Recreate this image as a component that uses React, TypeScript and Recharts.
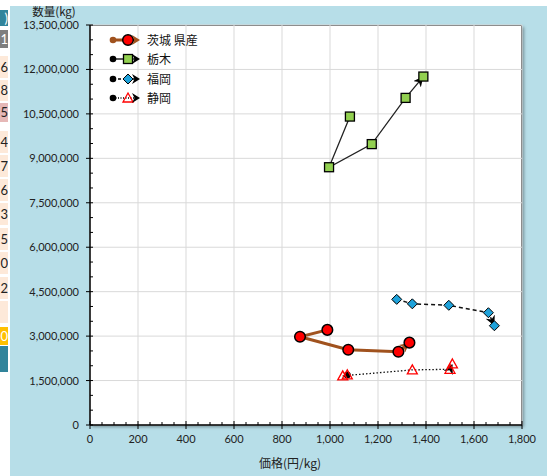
import { ScatterChart, Scatter, XAxis, YAxis, CartesianGrid, Legend } from "recharts";

const ibarakiPrice = [989, 875, 1076, 1285, 1331];
const ibarakiQty = [3210000, 2980000, 2540000, 2470000, 2780000];
const tochigiPrice = [1083, 996, 1174, 1315, 1389];
const tochigiQty = [10410000, 8700000, 9480000, 11040000, 11760000];
const fukuokaPrice = [1278, 1343, 1495, 1660, 1685];
const fukuokaQty = [4240000, 4090000, 4040000, 3790000, 3350000];
const shizuokaPrice = [1072, 1053, 1343, 1500, 1510];
const shizuokaQty = [1690000, 1660000, 1860000, 1880000, 2060000];

const xMajor = [0, 200, 400, 600, 800, 1000, 1200, 1400, 1600, 1800];
const yMajor = [0, 1500000, 3000000, 4500000, 6000000, 7500000, 9000000, 10500000, 12000000, 13500000];
const xAll = Array.from({ length: 37 }, (_, i) => i * 50);
const yAll = Array.from({ length: 28 }, (_, i) => i * 500000);

const sideCells = [
  { t: ")", top: 10, h: 16, bg: "#31849B", c: "#fff" },
  { t: "1", top: 30, h: 18, bg: "#7F7F7F", c: "#fff" },
  { t: "6", top: 56, h: 22, bg: "#FDE9D9", c: "#222" },
  { t: "8", top: 80, h: 21, bg: "#FDE9D9", c: "#222" },
  { t: "5", top: 103, h: 19, bg: "#E6B8B7", c: "#222" },
  { t: "4", top: 131, h: 22, bg: "#FDE9D9", c: "#222" },
  { t: "7", top: 155, h: 22, bg: "#FDE9D9", c: "#222" },
  { t: "6", top: 179, h: 22, bg: "#FDE9D9", c: "#222" },
  { t: "3", top: 203, h: 22, bg: "#FDE9D9", c: "#222" },
  { t: "5", top: 228, h: 22, bg: "#FDE9D9", c: "#222" },
  { t: "0", top: 252, h: 22, bg: "#FDE9D9", c: "#222" },
  { t: "2", top: 277, h: 22, bg: "#FDE9D9", c: "#222" },
  { t: "", top: 301, h: 22, bg: "#FDE9D9", c: "#222" },
  { t: "0", top: 327, h: 18, bg: "#FFC000", c: "#fff" },
  { t: "", top: 346, h: 26, bg: "#31849B", c: "#fff" },
];

const BROWN = "#A0521E";
const FONT = 'Lato, "Noto Sans CJK JP", sans-serif';
const JP = '"Noto Sans CJK JP", sans-serif';

const toPoints = (xs: number[], ys: number[]) => xs.map((x, i) => ({ x, y: ys[i] }));

const circleShape = (p: any) => (
  <circle cx={p.cx} cy={p.cy} r={5.3} fill="#FF0000" stroke="#000" strokeWidth={1.5} />
);
const squareShape = (p: any) => (
  <rect x={p.cx - 4.5} y={p.cy - 4.5} width={9} height={9} fill="#92D050" stroke="#000" strokeWidth={1.3} />
);
const diamondShape = (p: any) => (
  <path
    d={`M${p.cx},${p.cy - 5} L${p.cx + 5},${p.cy} L${p.cx},${p.cy + 5} L${p.cx - 5},${p.cy} Z`}
    fill="#1FA2DA"
    stroke="#000"
    strokeWidth={1}
  />
);
const triangleShape = (p: any) => (
  <path
    d={`M${p.cx},${p.cy - 5} L${p.cx + 5},${p.cy + 4} L${p.cx - 5},${p.cy + 4} Z`}
    fill="none"
    stroke="#FF0000"
    strokeWidth={1.3}
  />
);

function XTick(props: any) {
  const { x, y, payload } = props;
  const v = payload.value;
  const major = v % 200 === 0;
  return (
    <g>
      <line x1={x} x2={x} y1={y - (major ? 4 : 3)} y2={y + (major ? 4 : 0)} stroke="#000" strokeWidth={1} />
      {major && (
        <text x={x} y={y + 18} textAnchor="middle" fill="#222" fontSize={11} fontFamily={FONT}>
          {v.toLocaleString("en-US")}
        </text>
      )}
    </g>
  );
}

function YTick(props: any) {
  const { x, y, payload } = props;
  const v = payload.value;
  const major = v % 1500000 === 0;
  return (
    <g>
      <line x1={x - (major ? 4 : 0)} x2={x + 3} y1={y} y2={y} stroke="#000" strokeWidth={1} />
      {major && (
        <text x={x - 11} y={y + 4} textAnchor="end" fill="#222" fontSize={11} fontFamily={FONT}>
          {v.toLocaleString("en-US")}
        </text>
      )}
    </g>
  );
}

const legendItems = [
  { name: "茨城 県産", color: BROWN, width: 3, dash: undefined as string | undefined, kind: "circle" },
  { name: "栃木", color: "#000", width: 1.3, dash: undefined, kind: "square" },
  { name: "福岡", color: "#000", width: 1.3, dash: "3 2", kind: "diamond" },
  { name: "静岡", color: "#000", width: 1.3, dash: "1 1.5", kind: "triangle" },
];

function LegendContent() {
  return (
    <div style={{ display: "flex", flexDirection: "column" }}>
      {legendItems.map((it) => {
        const p = { cx: 20, cy: 7 };
        const shape =
          it.kind === "circle"
            ? circleShape(p)
            : it.kind === "square"
              ? squareShape(p)
              : it.kind === "diamond"
                ? diamondShape(p)
                : triangleShape(p);
        return (
          <div key={it.name} style={{ display: "flex", alignItems: "center", height: 19.5 }}>
            <svg width={39} height={14}>
              <line x1={5} x2={28} y1={7} y2={7} stroke={it.color} strokeWidth={it.width} strokeDasharray={it.dash} />
              <circle cx={5} cy={7} r={3.3} fill={it.color} />
              {shape}
              <path d="M24,2 L32,7 L24,12 L26.5,7 Z" fill={it.color} />
            </svg>
            <span style={{ fontFamily: JP, fontSize: 12, color: "#111", lineHeight: "14px" }}>{it.name}</span>
          </div>
        );
      })}
    </div>
  );
}

export default function App() {
  return (
    <div style={{ position: "fixed", left: 0, top: 0, width: 547, height: 476, background: "#fff", overflow: "hidden" }}>
      <svg width={0} height={0} style={{ position: "absolute" }}>
        <defs>
          <marker id="arrBrown" viewBox="0 0 10 10" refX="10" refY="5" markerWidth="10" markerHeight="10" markerUnits="userSpaceOnUse" orient="auto">
            <path d="M0,0 L10,5 L0,10 L3,5 Z" fill={BROWN} />
          </marker>
          <marker id="arrBlack" viewBox="0 0 10 10" refX="10" refY="5" markerWidth="10" markerHeight="10" markerUnits="userSpaceOnUse" orient="auto">
            <path d="M0,0 L10,5 L0,10 L3,5 Z" fill="#000" />
          </marker>
          <marker id="dotBrown" viewBox="0 0 10 10" refX="5" refY="5" markerWidth="7" markerHeight="7" markerUnits="userSpaceOnUse">
            <circle cx={5} cy={5} r={5} fill={BROWN} />
          </marker>
          <marker id="dotBlack" viewBox="0 0 10 10" refX="5" refY="5" markerWidth="7" markerHeight="7" markerUnits="userSpaceOnUse">
            <circle cx={5} cy={5} r={5} fill="#000" />
          </marker>
        </defs>
      </svg>
      <div style={{ position: "absolute", left: 10, top: 6, width: 537, height: 470, background: "#B7DEE8" }} />
      {sideCells.map((c, i) => (
        <div
          key={i}
          style={{
            position: "absolute",
            left: 0,
            top: c.top,
            width: 8,
            height: c.h,
            background: c.bg,
            color: c.c,
            overflow: "hidden",
            fontFamily: FONT,
            fontSize: 13,
            lineHeight: `${c.h}px`,
            textAlign: "right",
          }}
        >
          {c.t}
        </div>
      ))}
      <div
        style={{
          position: "absolute",
          left: 90,
          top: 25,
          width: 432,
          height: 400,
          background: "#fff",
          borderTop: "1px solid #404040",
          borderRight: "1px solid #404040",
          boxSizing: "border-box",
          boxShadow: "2px 2px 3px rgba(0,0,0,0.35)",
        }}
      />
      <ScatterChart width={547} height={476} margin={{ top: 25, right: 25, bottom: 0, left: 10 }}>
        <CartesianGrid stroke="#D9D9D9" strokeWidth={1} verticalValues={xMajor} horizontalValues={yMajor} />
        <XAxis
          type="number"
          dataKey="x"
          domain={[0, 1800]}
          ticks={xAll}
          interval={0}
          height={51}
          tickSize={0}
          tickMargin={0}
          tickLine={false}
          tick={XTick}
          axisLine={{ stroke: "#000", strokeWidth: 1.5 }}
          label={(props: any) => {
            const vb = props.viewBox;
            return (
              <text x={vb.x + vb.width / 2 - 16} y={vb.y + vb.height - 8} textAnchor="middle" fill="#222" fontSize={12} fontFamily={JP}>
                価格(円/kg)
              </text>
            );
          }}
        />
        <YAxis
          type="number"
          dataKey="y"
          domain={[0, 13500000]}
          ticks={yAll}
          interval={0}
          width={80}
          tickSize={0}
          tickMargin={0}
          tickLine={false}
          tick={YTick}
          axisLine={{ stroke: "#000", strokeWidth: 1.5 }}
          label={(props: any) => {
            const vb = props.viewBox;
            return (
              <text x={vb.x + vb.width - 36} y={vb.y - 9} textAnchor="middle" fill="#222" fontSize={11.5} fontFamily={JP}>
                数量(kg)
              </text>
            );
          }}
        />
        <Legend
          layout="vertical"
          align="center"
          verticalAlign="middle"
          content={LegendContent}
          wrapperStyle={{ left: 108, top: 30, width: "auto", height: "auto" }}
        />
        <Scatter
          name="茨城 県産"
          data={toPoints(ibarakiPrice, ibarakiQty)}
          shape={circleShape}
          isAnimationActive={false}
          line={{ stroke: BROWN, strokeWidth: 3, markerEnd: "url(#arrBrown)", markerStart: "url(#dotBrown)" }}
        />
        <Scatter
          name="栃木"
          data={toPoints(tochigiPrice, tochigiQty)}
          shape={squareShape}
          isAnimationActive={false}
          line={{ stroke: "#222", strokeWidth: 1.3, markerEnd: "url(#arrBlack)", markerStart: "url(#dotBlack)" }}
        />
        <Scatter
          name="福岡"
          data={toPoints(fukuokaPrice, fukuokaQty)}
          shape={diamondShape}
          isAnimationActive={false}
          line={{ stroke: "#111", strokeWidth: 1.5, strokeDasharray: "4 3", markerEnd: "url(#arrBlack)", markerStart: "url(#dotBlack)" }}
        />
        <Scatter
          name="静岡"
          data={toPoints(shizuokaPrice, shizuokaQty)}
          shape={triangleShape}
          isAnimationActive={false}
          line={{ stroke: "#111", strokeWidth: 1.3, strokeDasharray: "1.5 2", markerEnd: "url(#arrBlack)", markerStart: "url(#dotBlack)" }}
        />
      </ScatterChart>
    </div>
  );
}
